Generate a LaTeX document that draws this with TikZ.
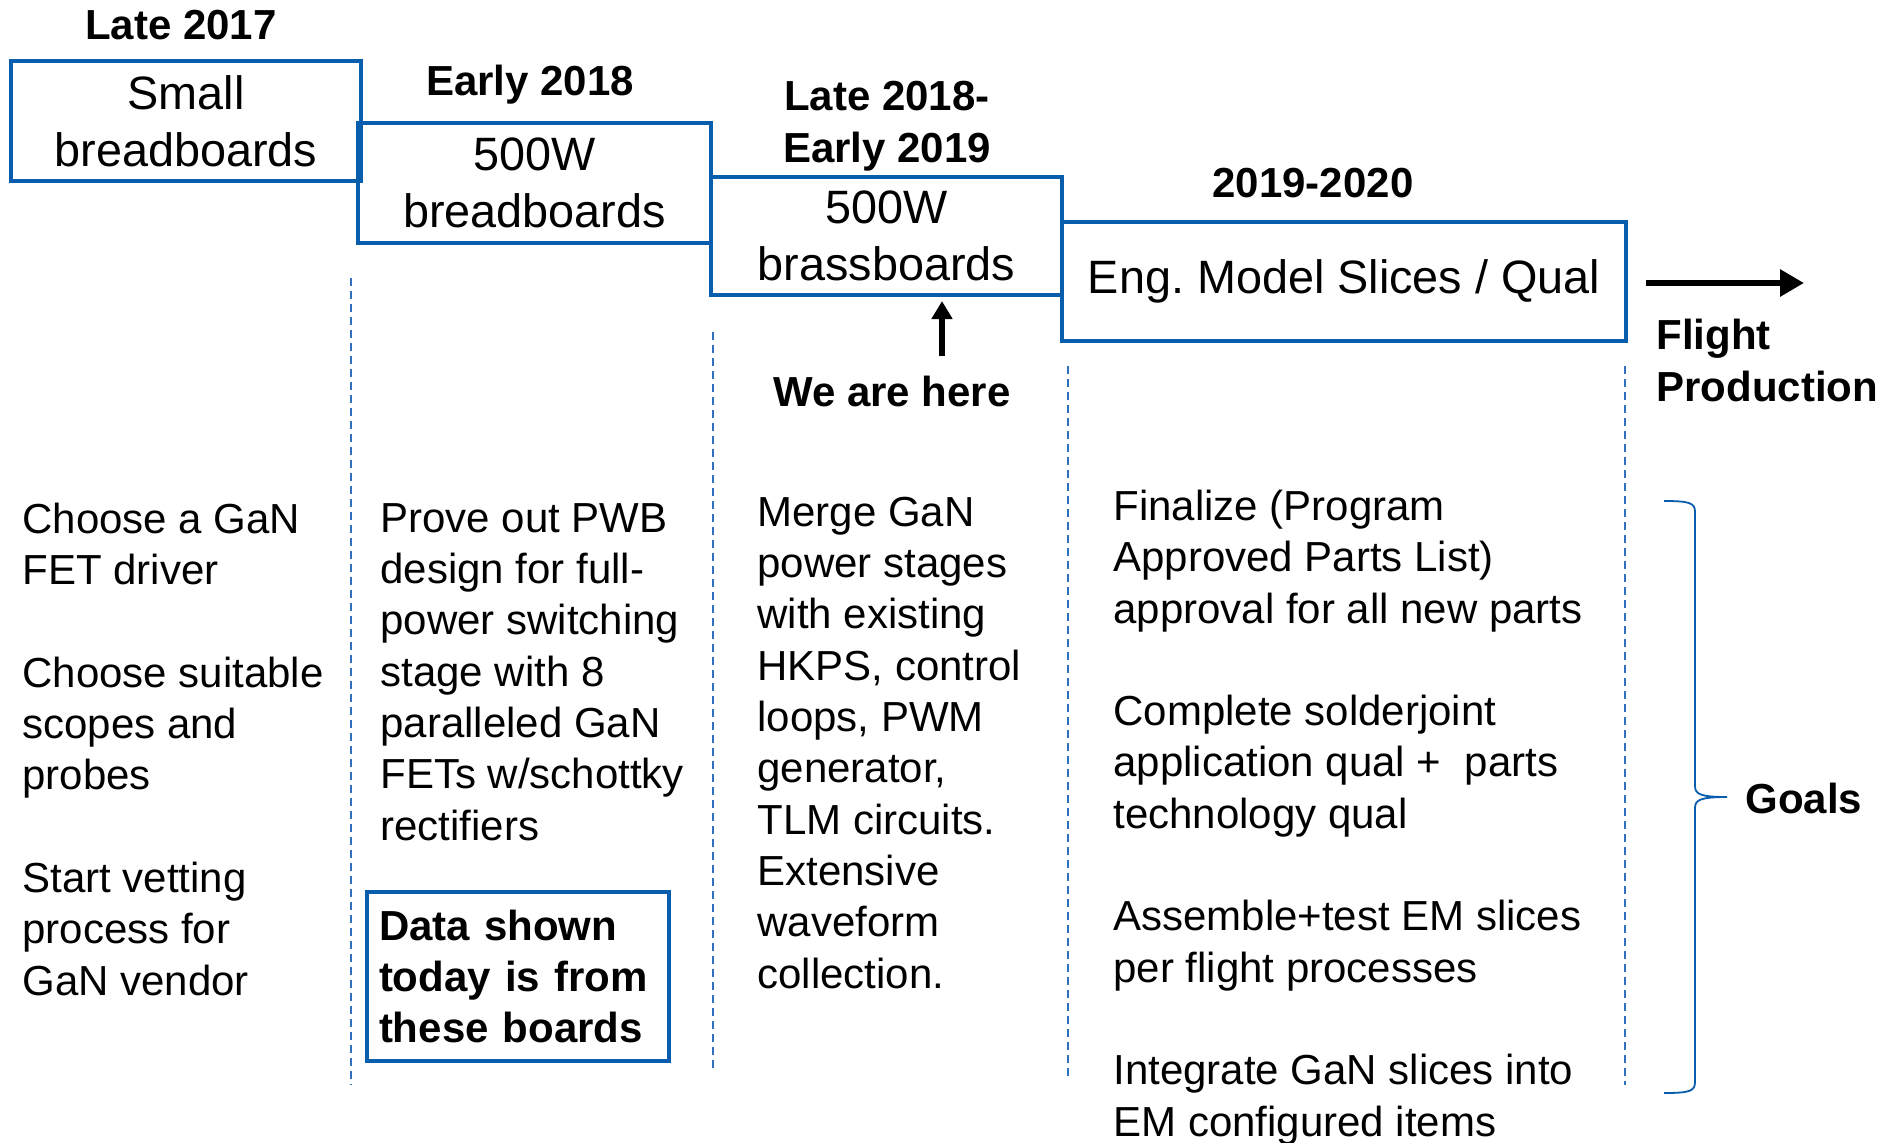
\documentclass[tikz,border=0pt]{standalone}
\usepackage{fontspec}
\setmainfont{Liberation Sans}
\usepackage{tikz}
\usetikzlibrary{arrows.meta,positioning,calc}
\definecolor{stageblue}{RGB}{8,94,172}
\definecolor{sepblue}{RGB}{46,112,190}
\newcommand{\stagefont}{\fontsize{23.4}{28.5}\selectfont}
\newcommand{\goalfont}{\fontsize{21}{25.65}\selectfont}
\newcommand{\datefont}{\fontsize{21}{26}\selectfont\bfseries}
\tikzset{
  stage/.style={rectangle, draw=stageblue, line width=2pt, align=center, inner sep=0pt, minimum height=60pt, font=\stagefont},
  date/.style={align=center, inner sep=0pt, font=\datefont},
  goals/.style={anchor=base west, align=left, inner sep=0pt, font=\goalfont},
  sep/.style={draw=sepblue, line width=0.8pt, dash pattern=on 4pt off 2.5pt},
  bigarrow/.style={-{Triangle[length=12pt, width=13pt]}, line width=3pt},
  brace/.style={draw=stageblue, line width=0.9pt},
}

\begin{document}
\begin{tikzpicture}[x=0.5pt, y=-0.5pt]
  \useasboundingbox (0,0) rectangle (1880,1142);
  \node[stage, minimum width=175pt] (small) at (186,121) {Small\\breadboards};
  \node[stage, minimum width=176.5pt] (bread) at (534.5,183) {500W\\breadboards};
  \node[stage, minimum width=175.5pt, minimum height=59pt] (brass) at (886.5,236) {500W\\brassboards};
  \node[stage, minimum width=282pt, minimum height=59.5pt] (engmodel) at (1344,281.5) {Eng.\ Model Slices / Qual};

  \node[date] (late17) at (181,25) {Late 2017};
  \node[date] (early18) at (530,85) {Early 2018};
  \node[date] (late18) at (887,126) {Late 2018-\\Early 2019};
  \node[date] (y1920) at (1313,183) {2019-2020};
  \node[date, anchor=base west, align=left] (flight) at (1656,401) {Flight\\Production};
  \node[date] (here) at (892,391) {We are here};

  \coordinate (heretail) at (942,356);
  \draw[-{Triangle[length=9pt, width=10pt]}, line width=2.6pt, shorten >=2pt] (heretail) -- (heretail |- brass.south);
  \coordinate (flowhead) at (1804,283);
  \draw[bigarrow, shorten <=9pt] (engmodel.east |- flowhead) -- (flowhead);

  \foreach \x/\ya/\yb in {351/278/1085, 713/332/1071, 1068/366/1078, 1625/366/1085}
    \draw[sep] (\x,\ya) -- (\x,\yb);

  \node[goals] (col1) at (22,995) {Choose a GaN\\FET driver\\[25.65pt]Choose suitable\\scopes and\\probes\\[25.65pt]Start vetting\\process for\\GaN vendor};
  \node[goals] (col2) at (380,840) {Prove out PWB\\design for full-\\power switching\\stage with 8\\paralleled GaN\\FETs w/schottky\\rectifiers};
  \node[goals] (col3) at (757,988) {Merge GaN\\power stages\\with existing\\HKPS, control\\loops, PWM\\generator,\\TLM circuits.\\Extensive\\waveform\\collection.};
  \node[goals] (col4) at (1113,1136) {Finalize (Program\\Approved Parts List)\\approval for all new parts\\[25.65pt]Complete solderjoint\\application qual +\ \ parts\\technology qual\\[25.65pt]Assemble+test EM slices\\per flight processes\\[25.65pt]Integrate GaN slices into\\EM configured items};

  \node[draw=stageblue, line width=2pt, font=\goalfont\bfseries, align=left, text width=139pt, inner xsep=6pt, inner ysep=0pt, minimum height=84.5pt] (datanote) at (518,976.5) {Data shown\\today is from\\these boards};

  \draw[brace] (1664,501) .. controls (1690,501) and (1695,503) .. (1695,512) -- (1695,786)
    .. controls (1695,794) and (1700,797) .. (1727,797)
    .. controls (1700,797) and (1695,800) .. (1695,808) -- (1695,1082)
    .. controls (1695,1091) and (1690,1093) .. (1664,1093);
  \node[date, anchor=west] (goaltag) at (1745,798) {Goals};
\end{tikzpicture}
\end{document}
